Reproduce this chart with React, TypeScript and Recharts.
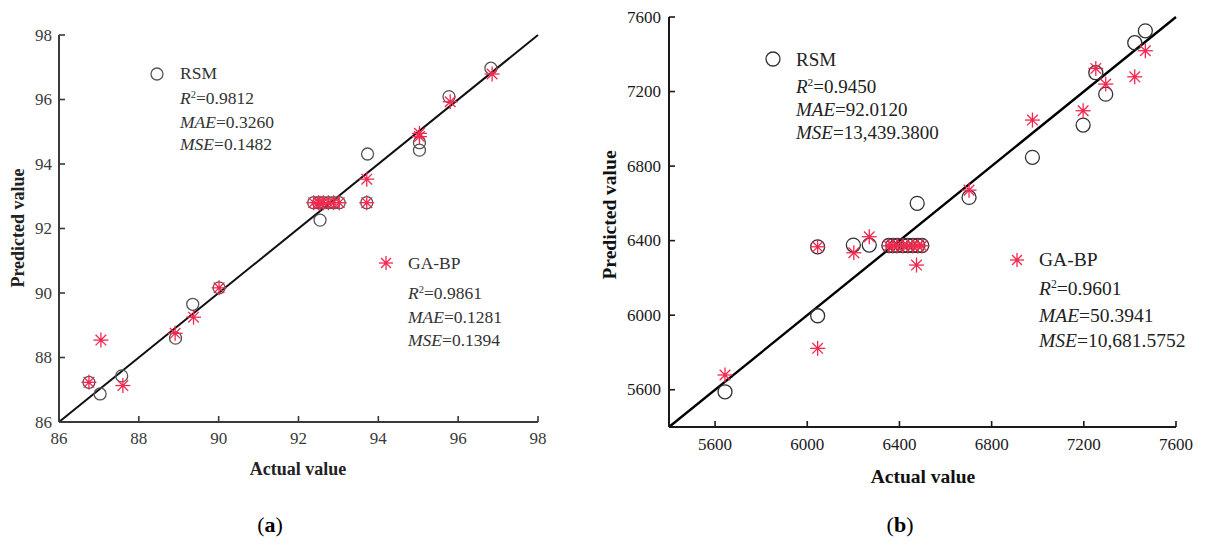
import React from "react";
import { ScatterChart, Scatter, XAxis, YAxis, ReferenceLine } from "recharts";

// panel (a)
const ticksA = [86, 88, 90, 92, 94, 96, 98];
const domainA = [86, 98];
const rsmActualA = [86.75, 87.03, 87.57, 88.92, 89.35, 90.01, 92.38, 92.5, 92.62, 92.75, 92.88, 93.02, 92.54, 93.71, 93.73, 95.03, 95.03, 95.77, 96.82];
const rsmPredA = [87.23, 86.87, 87.43, 88.6, 89.65, 90.16, 92.8, 92.8, 92.8, 92.8, 92.8, 92.8, 92.26, 92.8, 94.31, 94.66, 94.43, 96.09, 96.97];
const gaActualA = [86.75, 87.05, 87.6, 88.91, 89.37, 90.01, 92.38, 92.5, 92.62, 92.75, 92.88, 93.02, 92.54, 93.71, 93.71, 95.03, 95.03, 95.8, 96.85];
const gaPredA = [87.23, 88.54, 87.13, 88.75, 89.25, 90.16, 92.8, 92.8, 92.8, 92.8, 92.8, 92.8, 92.78, 92.8, 93.53, 94.95, 94.85, 95.93, 96.79];

// panel (b)
const ticksB = [5600, 6000, 6400, 6800, 7200, 7600];
const domainB = [5400, 7600];
const rsmActualB = [5643, 6045, 6045, 6200, 6269, 6354, 6371, 6389, 6415, 6436, 6458, 6480, 6497, 6477, 6702, 6977, 7197, 7252, 7295, 7421, 7467];
const rsmPredB = [5589, 5997, 6367, 6376, 6376, 6374, 6374, 6374, 6374, 6374, 6374, 6374, 6374, 6600, 6632, 6847, 7020, 7301, 7186, 7462, 7526];
const gaActualB = [5643, 6045, 6045, 6202, 6269, 6354, 6371, 6389, 6415, 6436, 6458, 6480, 6497, 6474, 6702, 6977, 7197, 7252, 7295, 7421, 7467];
const gaPredB = [5679, 5822, 6367, 6335, 6421, 6372, 6372, 6372, 6372, 6372, 6372, 6372, 6372, 6269, 6671, 7047, 7097, 7324, 7240, 7279, 7419];

const statsA = { rsm: ["0.9812", "0.3260", "0.1482"], ga: ["0.9861", "0.1281", "0.1394"] };
const statsB = { rsm: ["0.9450", "92.0120", "13,439.3800"], ga: ["0.9601", "50.3941", "10,681.5752"] };

const RED = "#f4284f";
const FONT = '"Liberation Serif", "Times New Roman", serif';

const pts = (xs: number[], ys: number[]) => xs.map((x, i) => ({ x, y: ys[i] }));

const Star = ({ cx, cy, r = 7.5 }: any) => {
  const d = r * 0.7071;
  return (
    <g stroke={RED} strokeWidth={1.3}>
      <line x1={cx - r} y1={cy} x2={cx + r} y2={cy} />
      <line x1={cx} y1={cy - r} x2={cx} y2={cy + r} />
      <line x1={cx - d} y1={cy - d} x2={cx + d} y2={cy + d} />
      <line x1={cx - d} y1={cy + d} x2={cx + d} y2={cy - d} />
      <circle cx={cx} cy={cy} r={1.8} fill={RED} stroke="none" />
    </g>
  );
};

const Ring = ({ cx, cy, r, color }: any) => (
  <circle cx={cx} cy={cy} r={r} fill="none" stroke={color} strokeWidth={1.3} />
);

const xTick = (color: string, fs: number, tm: number) => (p: any) => {
  const ay = p.y - tm;
  return (
    <g>
      <line x1={p.x} x2={p.x} y1={ay} y2={ay - 6} stroke={color} strokeWidth={1.6} />
      <text x={p.x} y={p.y} dy="0.75em" textAnchor="middle" fontSize={fs} fill={color} fontFamily={FONT}>
        {p.payload.value}
      </text>
    </g>
  );
};

const yTick = (color: string, fs: number, tm: number) => (p: any) => {
  const ax = p.x + tm;
  return (
    <g>
      <line x1={ax} x2={ax + 6} y1={p.y} y2={p.y} stroke={color} strokeWidth={1.6} />
      <text x={p.x} y={p.y} dy="0.33em" textAnchor="end" fontSize={fs} fill={color} fontFamily={FONT}>
        {p.payload.value}
      </text>
    </g>
  );
};

const Stats = ({ left, ys, name, vals, fs, color }: any) => (
  <>
    {[name, "R2", "MAE", "MSE"].map((k, i) => (
      <div
        key={k}
        style={{ position: "absolute", left, top: ys[i] - fs / 2, fontSize: fs, lineHeight: 1, color, whiteSpace: "nowrap" }}
      >
        {i === 0 ? (
          name
        ) : i === 1 ? (
          <>
            <i>R</i>
            <sup style={{ fontSize: fs * 0.6, verticalAlign: "0.6em" }}>2</sup>={vals[0]}
          </>
        ) : (
          <>
            <i>{k}</i>={vals[i - 1]}
          </>
        )}
      </div>
    ))}
  </>
);

const Marker = ({ cx, cy, kind, r, color }: any) => (
  <svg style={{ position: "absolute", left: cx - 10, top: cy - 10 }} width={20} height={20}>
    {kind === "ring" ? <Ring cx={10} cy={10} r={r} color={color} /> : <Star cx={10} cy={10} r={7} />}
  </svg>
);

const Title = ({ cx, cy, text, fs, rotate, color }: any) => (
  <div
    style={{
      position: "absolute",
      left: cx,
      top: cy,
      transform: `translate(-50%, -50%)${rotate ? " rotate(-90deg)" : ""}`,
      fontSize: fs,
      lineHeight: 1,
      fontWeight: "bold",
      color,
      whiteSpace: "nowrap",
    }}
  >
    {text}
  </div>
);

export default function App() {
  const colA = "#3a3a3a";
  const colB = "#1a1a1a";
  return (
    <div
      style={{
        position: "absolute",
        left: 0,
        top: 0,
        width: 1207,
        height: 545,
        background: "#fff",
        fontFamily: FONT,
        overflow: "hidden",
      }}
    >
      <div style={{ position: "absolute", left: 0, top: 0 }}>
        <ScatterChart width={560} height={460} margin={{ top: 35, right: 22, left: 0, bottom: 0 }}>
          <XAxis
            type="number"
            dataKey="x"
            domain={domainA}
            ticks={ticksA}
            interval={0}
            height={38}
            tickSize={0}
            tickMargin={9}
            tickLine={false}
            axisLine={{ stroke: colA, strokeWidth: 2 }}
            tick={xTick(colA, 17, 9)}
          />
          <YAxis
            type="number"
            dataKey="y"
            domain={domainA}
            ticks={ticksA}
            interval={0}
            width={59}
            tickSize={0}
            tickMargin={7}
            tickLine={false}
            axisLine={{ stroke: colA, strokeWidth: 2 }}
            tick={yTick(colA, 17, 7)}
          />
          <ReferenceLine
            segment={[
              { x: domainA[0], y: domainA[0] },
              { x: domainA[1], y: domainA[1] },
            ]}
            stroke="#111"
            strokeWidth={2}
          />
          <Scatter
            data={pts(rsmActualA, rsmPredA)}
            isAnimationActive={false}
            shape={(p: any) => <Ring cx={p.cx} cy={p.cy} r={6} color="#555" />}
          />
          <Scatter
            data={pts(gaActualA, gaPredA)}
            isAnimationActive={false}
            shape={(p: any) => <Star cx={p.cx} cy={p.cy} />}
          />
        </ScatterChart>
      </div>

      <div style={{ position: "absolute", left: 600, top: 0 }}>
        <ScatterChart width={600} height={470} margin={{ top: 17, right: 24, left: 0, bottom: 0 }}>
          <XAxis
            type="number"
            dataKey="x"
            domain={domainB}
            ticks={ticksB}
            interval={0}
            height={43}
            tickSize={0}
            tickMargin={10}
            tickLine={false}
            axisLine={{ stroke: colB, strokeWidth: 2 }}
            tick={xTick(colB, 17, 10)}
          />
          <YAxis
            type="number"
            dataKey="y"
            domain={domainB}
            ticks={ticksB}
            interval={0}
            width={69}
            tickSize={0}
            tickMargin={8}
            tickLine={false}
            axisLine={{ stroke: colB, strokeWidth: 2 }}
            tick={yTick(colB, 17, 8)}
          />
          <ReferenceLine
            segment={[
              { x: domainB[0], y: domainB[0] },
              { x: domainB[1], y: domainB[1] },
            ]}
            stroke="#000"
            strokeWidth={2.4}
          />
          <Scatter
            data={pts(rsmActualB, rsmPredB)}
            isAnimationActive={false}
            shape={(p: any) => <Ring cx={p.cx} cy={p.cy} r={7} color="#333" />}
          />
          <Scatter
            data={pts(gaActualB, gaPredB)}
            isAnimationActive={false}
            shape={(p: any) => <Star cx={p.cx} cy={p.cy} />}
          />
        </ScatterChart>
      </div>

      {/* annotations (a) */}
      <Marker cx={157} cy={74} kind="ring" r={6} color="#555" />
      <Stats left={180} ys={[74, 99, 122.5, 144.5]} name="RSM" vals={statsA.rsm} fs={17.5} color="#333" />
      <Marker cx={386} cy={263} kind="star" />
      <Stats left={408} ys={[264, 294, 317.5, 340.5]} name="GA-BP" vals={statsA.ga} fs={17.5} color="#333" />

      {/* annotations (b) */}
      <Marker cx={773} cy={59} kind="ring" r={7} color="#333" />
      <Stats left={796} ys={[59.5, 86, 109, 132.5]} name="RSM" vals={statsB.rsm} fs={19} color="#222" />
      <Marker cx={1017} cy={260} kind="star" />
      <Stats left={1039} ys={[260, 289, 315.5, 340.5]} name="GA-BP" vals={statsB.ga} fs={19.5} color="#222" />

      <Title cx={298} cy={469} text="Actual value" fs={18} color="#222" />
      <Title cx={18} cy={228} text="Predicted value" fs={18} color="#222" rotate />
      <Title cx={923} cy={477} text="Actual value" fs={19.5} color="#111" />
      <Title cx={610} cy={215} text="Predicted value" fs={19.5} color="#111" rotate />

      <div style={{ position: "absolute", left: 270, top: 525, transform: "translate(-50%, -50%)", fontSize: 22, lineHeight: 1 }}>
        (<b>a</b>)
      </div>
      <div style={{ position: "absolute", left: 900, top: 525, transform: "translate(-50%, -50%)", fontSize: 22, lineHeight: 1 }}>
        (<b>b</b>)
      </div>
    </div>
  );
}
